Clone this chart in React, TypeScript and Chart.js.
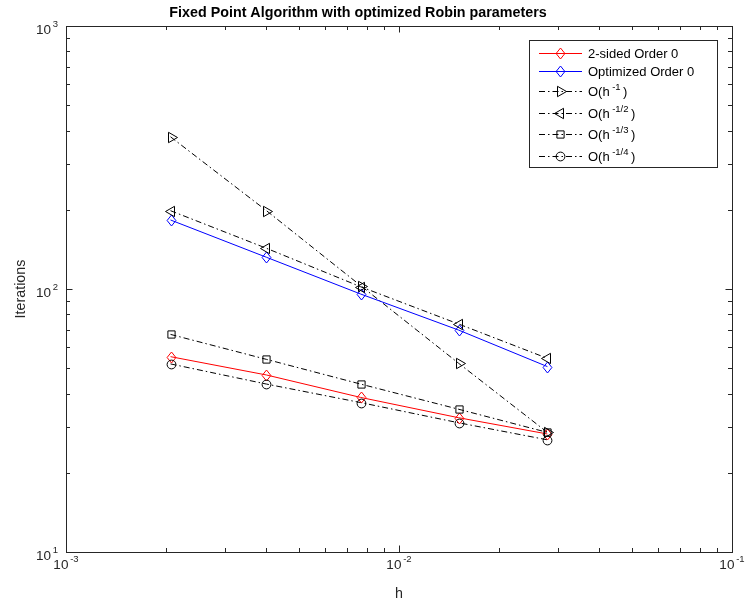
import React, { useEffect, useRef } from "react";
import { Chart, registerables } from "chart.js";

Chart.register(...registerables);

// ---- data ----
const hValues = [0.00206, 0.004, 0.00767, 0.0151, 0.0279];
const twoSidedOrder0 = [55.3, 47.1, 38.7, 32.4, 28.1];
const optimizedOrder0 = [183, 132, 95.7, 69.8, 50.7];
const refOrder1 = [379, 198.5, 103, 52.2, 28.5];
const refOrderHalf = [198.5, 142.8, 102, 73.6, 54.5];
const refOrderThird = [67.2, 54.0, 43.5, 34.9, 28.5];
const refOrderQuarter = [51.9, 43.5, 37.0, 31.0, 26.7];

const seriesNames = ["2-sided Order 0", "Optimized Order 0", "O(h", "O(h", "O(h", "O(h"];
const seriesExponents = ["", "", "-1", "-1/2", "-1/3", "-1/4"];

const xTickValues = [1e-3, 1e-2, 1e-1];
const xTickExponents = ["-3", "-2", "-1"];
const yTickValues = [10, 100, 1000];
const yTickExponents = ["1", "2", "3"];

const titleText = "Fixed Point Algorithm with optimized Robin parameters";
const xLabel = "h";
const yLabel = "Iterations";

const FONT = '"Liberation Sans", Arial, Helvetica, sans-serif';
const AXIS_COLOR = "#262626";
const DASHDOT = [6, 3, 1.5, 3];

type Marker = { style: string; rotation: number; radius: number };
const markers: Marker[] = [
  { style: "diamond", rotation: 0, radius: 5.5 },
  { style: "diamond", rotation: 0, radius: 5.5 },
  { style: "triangle", rotation: 90, radius: 6 },
  { style: "triangle", rotation: -90, radius: 6 },
  { style: "rect", rotation: 0, radius: 5 },
  { style: "circle", rotation: 0, radius: 4.4 },
];
const colors = ["#ff0000", "#0000ff", "#000000", "#000000", "#000000", "#000000"];
const seriesValues = [twoSidedOrder0, optimizedOrder0, refOrder1, refOrderHalf, refOrderThird, refOrderQuarter];

function traceMarker(ctx: CanvasRenderingContext2D, m: Marker, x: number, y: number) {
  const r = m.radius;
  ctx.beginPath();
  if (m.style === "diamond") {
    ctx.moveTo(x, y - r);
    ctx.lineTo(x + r * 0.8, y);
    ctx.lineTo(x, y + r);
    ctx.lineTo(x - r * 0.8, y);
    ctx.closePath();
  } else if (m.style === "triangle") {
    const rot = (m.rotation * Math.PI) / 180;
    for (let i = 0; i < 3; i++) {
      const a = rot - Math.PI / 2 + (i * 2 * Math.PI) / 3;
      const px = x + Math.cos(a) * r;
      const py = y + Math.sin(a) * r;
      if (i === 0) ctx.moveTo(px, py);
      else ctx.lineTo(px, py);
    }
    ctx.closePath();
  } else if (m.style === "rect") {
    const s = r * 0.72;
    ctx.rect(x - s, y - s, 2 * s, 2 * s);
  } else {
    ctx.arc(x, y, r, 0, Math.PI * 2);
  }
}

function drawMarker(ctx: CanvasRenderingContext2D, m: Marker, x: number, y: number, color: string) {
  ctx.save();
  ctx.strokeStyle = color;
  ctx.lineWidth = 1;
  ctx.setLineDash([]);
  traceMarker(ctx, m, x, y);
  ctx.stroke();
  ctx.restore();
}

function drawPow(
  ctx: CanvasRenderingContext2D,
  base: string,
  exp: string,
  x: number,
  y: number,
  align: "center" | "right",
  baseSize: number,
  expSize: number,
  rise: number
) {
  ctx.save();
  ctx.textAlign = "left";
  ctx.textBaseline = "alphabetic";
  ctx.font = `${baseSize}px ${FONT}`;
  const bw = ctx.measureText(base).width;
  ctx.font = `${expSize}px ${FONT}`;
  const ew = ctx.measureText(exp).width;
  const gap = 1.8;
  const total = bw + gap + ew;
  const x0 = align === "center" ? x - total / 2 : x - total;
  ctx.font = `${baseSize}px ${FONT}`;
  ctx.fillText(base, x0, y);
  ctx.font = `${expSize}px ${FONT}`;
  ctx.fillText(exp, x0 + bw + gap, y - rise);
  ctx.restore();
}

const decorPlugin = {
  id: "matlabDecor",
  afterDatasetsDraw(chart: any) {
    const ctx: CanvasRenderingContext2D = chart.ctx;
    const { left, right, top, bottom } = chart.chartArea;
    const xs = chart.scales.x;
    const ys = chart.scales.y;
    ctx.save();

    // markers at the library-computed point positions
    for (let i = 0; i < seriesValues.length; i++) {
      const meta = chart.getDatasetMeta(i);
      meta.data.forEach((pt: any) => {
        drawMarker(ctx, markers[i], Math.round(pt.x) + 0.5, Math.round(pt.y) + 0.5, colors[i]);
      });
    }

    // box
    ctx.strokeStyle = AXIS_COLOR;
    ctx.lineWidth = 1;
    ctx.setLineDash([]);
    ctx.strokeRect(Math.round(left) + 0.5, Math.round(top) + 0.5, Math.round(right - left), Math.round(bottom - top));

    const majorLen = 6.5;
    const minorLen = 4;
    ctx.beginPath();
    for (let d = 0; d < xTickValues.length; d++) {
      const dec = xTickValues[d];
      for (let k = 1; k <= 9; k++) {
        if (d === xTickValues.length - 1 && k > 1) break;
        const px = Math.round(xs.getPixelForValue(dec * k)) + 0.5;
        const len = k === 1 ? majorLen : minorLen;
        ctx.moveTo(px, bottom);
        ctx.lineTo(px, bottom - len);
        ctx.moveTo(px, top);
        ctx.lineTo(px, top + len);
      }
    }
    for (let d = 0; d < yTickValues.length; d++) {
      const dec = yTickValues[d];
      for (let k = 1; k <= 9; k++) {
        if (d === yTickValues.length - 1 && k > 1) break;
        const py = Math.round(ys.getPixelForValue(dec * k)) + 0.5;
        const len = k === 1 ? majorLen : minorLen;
        ctx.moveTo(left, py);
        ctx.lineTo(left + len, py);
        ctx.moveTo(right, py);
        ctx.lineTo(right - len, py);
      }
    }
    ctx.stroke();

    // tick labels
    ctx.fillStyle = AXIS_COLOR;
    for (let i = 0; i < xTickValues.length; i++) {
      const px = xs.getPixelForValue(xTickValues[i]);
      drawPow(ctx, "10", xTickExponents[i], px, bottom + 16.5, "center", 13.5, 9.5, 6.5);
    }
    for (let i = 0; i < yTickValues.length; i++) {
      const py = ys.getPixelForValue(yTickValues[i]);
      drawPow(ctx, "10", yTickExponents[i], left - 8, py + 7.5, "right", 13.5, 9.5, 7);
    }

    // axis labels
    ctx.font = `14.3px ${FONT}`;
    ctx.textAlign = "center";
    ctx.textBaseline = "alphabetic";
    ctx.fillText(xLabel, (left + right) / 2, bottom + 46);
    ctx.save();
    ctx.translate(25, (top + bottom) / 2);
    ctx.rotate(-Math.PI / 2);
    ctx.fillText(yLabel, 0, 0);
    ctx.restore();

    // title
    ctx.fillStyle = "#000";
    ctx.font = `bold 14.3px ${FONT}`;
    ctx.textAlign = "center";
    ctx.fillText(titleText, 358, 17);

    // legend
    const lx0 = 529.5, ly0 = 40.5, lx1 = 717.5, ly1 = 167.5;
    ctx.fillStyle = "#fff";
    ctx.fillRect(lx0, ly0, lx1 - lx0, ly1 - ly0);
    ctx.strokeStyle = AXIS_COLOR;
    ctx.lineWidth = 1;
    ctx.setLineDash([]);
    ctx.strokeRect(lx0, ly0, lx1 - lx0, ly1 - ly0);
    const rowY = [53, 71, 90.5, 112.5, 134, 156];
    for (let i = 0; i < seriesNames.length; i++) {
      const y = Math.round(rowY[i]) + 0.5;
      ctx.strokeStyle = colors[i];
      ctx.lineWidth = 1;
      ctx.setLineDash(i < 2 ? [] : DASHDOT);
      ctx.beginPath();
      ctx.moveTo(539, y);
      ctx.lineTo(582, y);
      ctx.stroke();
      ctx.setLineDash([]);
      drawMarker(ctx, markers[i], 560.5, y, colors[i]);
      ctx.fillStyle = "#000";
      ctx.textAlign = "left";
      ctx.font = `13px ${FONT}`;
      const ty = y + 4.5;
      ctx.fillText(seriesNames[i], 588, ty);
      if (seriesExponents[i]) {
        const w = ctx.measureText(seriesNames[i]).width;
        ctx.font = `9.5px ${FONT}`;
        ctx.fillText(seriesExponents[i], 588 + w + 2.5, ty - 6.5);
        const ew = ctx.measureText(seriesExponents[i]).width;
        ctx.font = `13px ${FONT}`;
        ctx.fillText(")", 588 + w + 2.5 + ew + 2.5, ty);
      }
    }
    ctx.restore();
  },
};

export default function App() {
  const canvasRef = useRef<HTMLCanvasElement | null>(null);
  useEffect(() => {
    document.body.style.margin = "0";
    const canvas = canvasRef.current;
    if (!canvas) return;
    const datasets = seriesValues.map((vals, i) => ({
      label: seriesNames[i] + (seriesExponents[i] ? seriesExponents[i] + ")" : ""),
      data: hValues.map((h, j) => ({ x: h, y: vals[j] })),
      borderColor: colors[i],
      borderWidth: 1,
      borderDash: i < 2 ? [] : DASHDOT,
      pointRadius: 0,
      pointHoverRadius: 0,
      fill: false,
      tension: 0,
    }));
    const chart = new Chart(canvas, {
      type: "line",
      data: { datasets },
      options: {
        animation: false,
        responsive: false,
        devicePixelRatio: 1,
        layout: { padding: { left: 66, top: 26, right: 16, bottom: 51 } },
        plugins: { legend: { display: false }, tooltip: { enabled: false }, title: { display: false } },
        scales: {
          x: { type: "logarithmic", min: 1e-3, max: 1e-1, display: false },
          y: { type: "logarithmic", min: 10, max: 1000, display: false },
        },
        elements: { line: { borderCapStyle: "butt" } },
      },
      plugins: [
        {
          id: "whiteBg",
          beforeDraw(c: any) {
            const ctx = c.ctx;
            ctx.save();
            ctx.fillStyle = "#fff";
            ctx.fillRect(0, 0, c.width, c.height);
            ctx.restore();
          },
        },
        decorPlugin,
      ],
    } as any);
    return () => chart.destroy();
  }, []);
  return (
    <div style={{ position: "absolute", left: 0, top: 0, width: 748, height: 603, background: "#fff" }}>
      <canvas ref={canvasRef} width={748} height={603} />
    </div>
  );
}
